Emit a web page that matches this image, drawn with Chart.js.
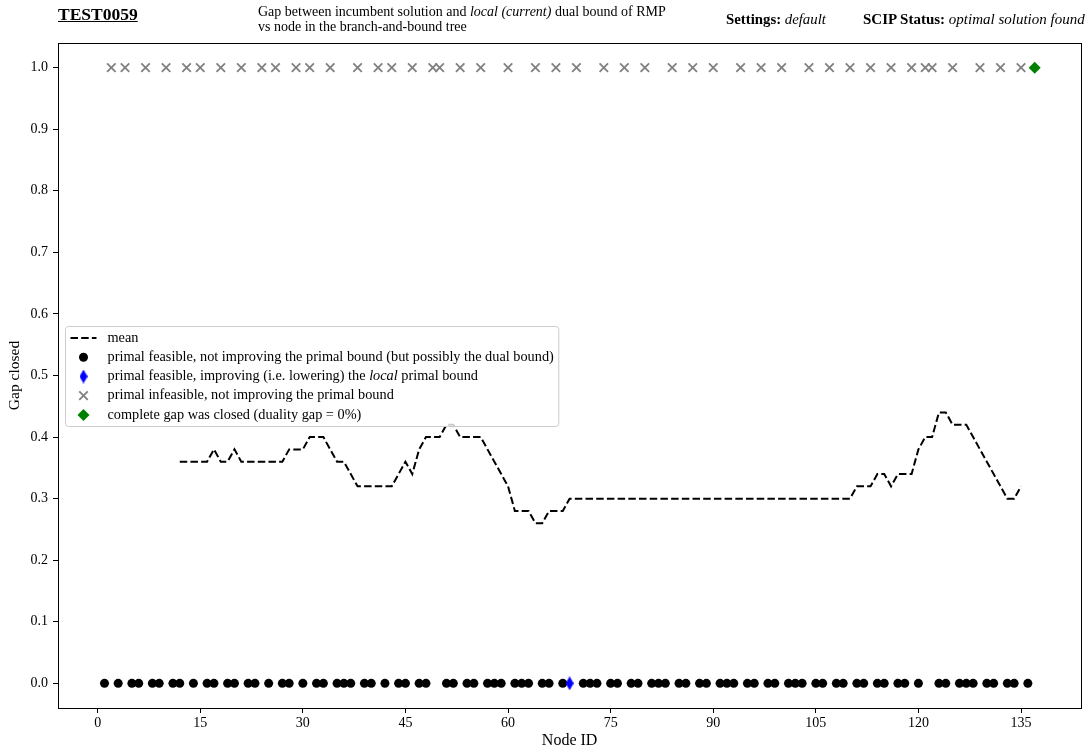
<!DOCTYPE html>
<html>
<head>
<meta charset="utf-8">
<title>TEST0059</title>
<script src="https://cdn.jsdelivr.net/npm/chart.js@4/dist/chart.umd.min.js"></script>
<style>
  html, body { margin: 0; padding: 0; background: #fff; }
  #wrap { position: relative; width: 1089px; height: 751px; font-family: "Liberation Serif", serif; color: #000; }
  #chart { position: absolute; left: 0; top: 0; }
  .hdr { position: absolute; white-space: nowrap; }
</style>
</head>
<body>
<div id="wrap">
  <canvas id="chart" width="1089" height="751"></canvas>
  <div class="hdr" style="left:58px; top:5px; font-size:17.5px; line-height:19px; font-weight:bold; text-decoration:underline;">TEST0059</div>
  <div class="hdr" style="left:258px; top:4px; font-size:14px; line-height:15px;">Gap between incumbent solution and <i>local (current)</i> dual bound of RMP<br>vs node in the branch-and-bound tree</div>
  <div class="hdr" style="left:726px; top:11px; font-size:14.8px; line-height:16px;"><b>Settings:</b> <i>default</i></div>
  <div class="hdr" style="left:863px; top:11px; font-size:15px; line-height:16px;"><b>SCIP Status:</b> <i>optimal solution found</i></div>
</div>
<script>
// Data (node IDs)

const feasibleNodes = [1, 3, 5, 6, 8, 9, 11, 12, 14, 16, 17, 19, 20, 22, 23, 25, 27, 28, 30, 32, 33,
    35, 36, 37, 39, 40, 42, 44, 45, 47, 48, 51, 52, 54, 55, 57, 58, 59, 61, 62, 63, 65, 66, 68,
    71, 72, 73, 75, 76, 78, 79, 81, 82, 83, 85, 86, 88, 89, 91, 92, 93, 95, 96, 98, 99, 101, 102,
    103, 105, 106, 108, 109, 111, 112, 114, 115, 117, 118, 120, 123, 124, 126, 127, 128, 130, 131,
    133, 134, 136];
const improvingNodes = [69];
const infeasibleNodes = [2, 4, 7, 10, 13, 15, 18, 21, 24, 26, 29, 31, 34, 38, 41, 43, 46, 49, 50,
    53, 56, 60, 64, 67, 70, 74, 77, 80, 84, 87, 90, 94, 97, 100, 104, 107, 110, 113, 116, 119,
    121, 122, 125, 129, 132, 135];
const closedNodes = [137];

// mean gap closed, one value per node starting at meanFirstNode
const meanFirstNode = 12;
const meanValues = [
    0.36, 0.36, 0.36, 0.36, 0.36, 0.38, 0.36, 0.36, 0.38, 0.36,   // 12-21
    0.36, 0.36, 0.36, 0.36, 0.36, 0.36, 0.38, 0.38, 0.38, 0.40,   // 22-31
    0.40, 0.40, 0.38, 0.36, 0.36, 0.34, 0.32, 0.32, 0.32, 0.32,   // 32-41
    0.32, 0.32, 0.34, 0.36, 0.34, 0.38, 0.40, 0.40, 0.40, 0.42,   // 42-51
    0.42, 0.40, 0.40, 0.40, 0.40, 0.38, 0.36, 0.34, 0.32, 0.28,   // 52-61
    0.28, 0.28, 0.26, 0.26, 0.28, 0.28, 0.28, 0.30, 0.30, 0.30,   // 62-71
    0.30, 0.30, 0.30, 0.30, 0.30, 0.30, 0.30, 0.30, 0.30, 0.30,   // 72-81
    0.30, 0.30, 0.30, 0.30, 0.30, 0.30, 0.30, 0.30, 0.30, 0.30,   // 82-91
    0.30, 0.30, 0.30, 0.30, 0.30, 0.30, 0.30, 0.30, 0.30, 0.30,   // 92-101
    0.30, 0.30, 0.30, 0.30, 0.30, 0.30, 0.30, 0.30, 0.30, 0.32,   // 102-111
    0.32, 0.32, 0.34, 0.34, 0.32, 0.34, 0.34, 0.34, 0.38, 0.40,   // 112-121
    0.40, 0.44, 0.44, 0.42, 0.42, 0.42, 0.40, 0.38, 0.36, 0.34,   // 122-131
    0.32, 0.30, 0.30, 0.32                                        // 132-135
];

const xTicks = [0, 15, 30, 45, 60, 75, 90, 105, 120, 135];
const yTicks = [0, 0.1, 0.2, 0.3, 0.4, 0.5, 0.6, 0.7, 0.8, 0.9, 1.0];

const legendLabels = [
    [['mean', false]],
    [['primal feasible, not improving the primal bound (but possibly the dual bound)', false]],
    [['primal feasible, improving (i.e. lowering) the ', false], ['local', true], [' primal bound', false]],
    [['primal infeasible, not improving the primal bound', false]],
    [['complete gap was closed (duality gap = 0%)', false]]
];

// Helpers

const FONT = "'Liberation Serif', serif";

// thin diamond marker (matplotlib 'd'), Chart.js has no such point style
let thinDiamond = function(color, w, h){
    let c = document.createElement('canvas');
    c.width = w;
    c.height = h;
    let g = c.getContext('2d');
    g.fillStyle = color;
    g.beginPath();
    g.moveTo(w / 2, 0);
    g.lineTo(w, h / 2);
    g.lineTo(w / 2, h);
    g.lineTo(0, h / 2);
    g.closePath();
    g.fill();
    return c;
};

let toPoints = function(nodes, y){
    return nodes.map(n => ({x: n, y: y}));
};

let meanPoints = meanValues.map((v, i) => ({x: meanFirstNode + i, y: v}));

// draws one legend symbol in the style of its dataset
let drawSymbol = function(ctx, ds, x, y){
    ctx.save();
    if (ds.showLine){
        ctx.strokeStyle = ds.borderColor;
        ctx.lineWidth = ds.borderWidth;
        ctx.setLineDash(ds.borderDash);
        ctx.beginPath();
        ctx.moveTo(x - 13, y);
        ctx.lineTo(x + 13, y);
        ctx.stroke();
    } else if (ds.pointStyle === 'circle'){
        ctx.fillStyle = ds.backgroundColor;
        ctx.beginPath();
        ctx.arc(x, y, ds.pointRadius, 0, Math.PI * 2);
        ctx.fill();
    } else if (ds.pointStyle === 'crossRot'){
        let o = Math.SQRT1_2 * ds.pointRadius;
        ctx.strokeStyle = ds.borderColor;
        ctx.lineWidth = ds.borderWidth;
        ctx.beginPath();
        ctx.moveTo(x - o, y - o);
        ctx.lineTo(x + o, y + o);
        ctx.moveTo(x - o, y + o);
        ctx.lineTo(x + o, y - o);
        ctx.stroke();
    } else if (ds.pointStyle === 'rectRot'){
        let r = ds.pointRadius;
        ctx.fillStyle = ds.backgroundColor;
        ctx.beginPath();
        ctx.moveTo(x - r, y);
        ctx.lineTo(x, y - r);
        ctx.lineTo(x + r, y);
        ctx.lineTo(x, y + r);
        ctx.closePath();
        ctx.fill();
    } else if (ds.pointStyle instanceof HTMLCanvasElement){
        let img = ds.pointStyle;
        ctx.drawImage(img, x - img.width / 2, y - img.height / 2);
    }
    ctx.restore();
};

// Plugins

// legend box inside the plot, 'center left' like matplotlib
const boxLegend = {
    id: 'boxLegend',
    afterDatasetsDraw(chart){
        let ctx = chart.ctx;
        let area = chart.chartArea;
        let fontSize = 14.3;
        let rowH = 19.2;
        ctx.save();
        ctx.textBaseline = 'middle';

        let widths = legendLabels.map(parts => parts.reduce((w, p) => {
            ctx.font = (p[1] ? 'italic ' : '') + fontSize + 'px ' + FONT;
            return w + ctx.measureText(p[0]).width;
        }, 0));
        let boxW = 42 + Math.max.apply(null, widths) + 5;
        let boxH = rowH * legendLabels.length + 4;
        let left = Math.round(area.left + 7) + 0.5;
        let top = Math.round((area.top + area.bottom) / 2 - boxH / 2) + 0.5;

        ctx.beginPath();
        ctx.roundRect(left, top, boxW, boxH, 3);
        ctx.fillStyle = 'rgba(255,255,255,0.8)';
        ctx.fill();
        ctx.strokeStyle = '#cccccc';
        ctx.lineWidth = 1;
        ctx.stroke();

        legendLabels.forEach(function(parts, i){
            let y = top + 2 + rowH * (i + 0.5);
            drawSymbol(ctx, chart.data.datasets[i], left + 18, y);
            let x = left + 42;
            parts.forEach(function(p){
                ctx.font = (p[1] ? 'italic ' : '') + fontSize + 'px ' + FONT;
                ctx.fillStyle = '#000';
                ctx.fillText(p[0], x, y);
                x += ctx.measureText(p[0]).width;
            });
        });
        ctx.restore();
    }
};

// full black frame round the plot
const frame = {
    id: 'frame',
    afterDraw(chart){
        let a = chart.chartArea;
        let ctx = chart.ctx;
        ctx.save();
        ctx.strokeStyle = '#000';
        ctx.lineWidth = 1;
        ctx.strokeRect(Math.round(a.left) + 0.5, Math.round(a.top) + 0.5,
            Math.round(a.right) - Math.round(a.left), Math.round(a.bottom) - Math.round(a.top));
        ctx.restore();
    }
};

// Chart

document.addEventListener('DOMContentLoaded', function() {
    Chart.defaults.font.family = FONT;
    Chart.defaults.color = '#000';

    let chartDom = document.getElementById('chart').getContext('2d');
    new Chart(chartDom, {
        type: 'scatter',
        data: {
            datasets: [
                {
                    label: 'mean',
                    data: meanPoints,
                    showLine: true,
                    borderColor: '#000000',
                    backgroundColor: '#000000',
                    borderWidth: 2,
                    borderDash: [7.5, 3.2],
                    pointRadius: 0,
                    tension: 0,
                    fill: false,
                    order: 5
                },
                {
                    label: 'feasible',
                    data: toPoints(feasibleNodes, 0),
                    pointStyle: 'circle',
                    pointRadius: 4.5,
                    backgroundColor: '#000000',
                    borderWidth: 0,
                    order: 2
                },
                {
                    label: 'improving',
                    data: toPoints(improvingNodes, 0),
                    pointStyle: thinDiamond('#0000ff', 8, 14),
                    pointRadius: 5,
                    backgroundColor: '#0000ff',
                    borderWidth: 0,
                    order: 1
                },
                {
                    label: 'infeasible',
                    data: toPoints(infeasibleNodes, 1),
                    pointStyle: 'crossRot',
                    pointRadius: 6,
                    borderColor: '#808080',
                    backgroundColor: '#808080',
                    borderWidth: 1.8,
                    order: 3
                },
                {
                    label: 'closed',
                    data: toPoints(closedNodes, 1),
                    pointStyle: 'rectRot',
                    pointRadius: 6,
                    backgroundColor: '#008000',
                    borderWidth: 0,
                    order: 1
                }
            ]
        },
        options: {
            responsive: false,
            devicePixelRatio: 1,
            animation: false,
            events: [],
            layout: {
                padding: {top: 43, right: 7.5, bottom: 0, left: 0}
            },
            plugins: {
                legend: {display: false},
                tooltip: {enabled: false}
            },
            scales: {
                x: {
                    type: 'linear',
                    min: -5.8,
                    max: 143.8,
                    afterBuildTicks: s => { s.ticks = xTicks.map(v => ({value: v})); },
                    afterFit: s => { s.height = 43; },
                    grid: {display: true, drawOnChartArea: false, drawTicks: true, tickLength: 5, color: '#000'},
                    border: {display: true, color: '#000', width: 1},
                    ticks: {font: {size: 14}, padding: 2, maxRotation: 0, autoSkip: false,
                        callback: v => String(v)},
                    title: {display: true, text: 'Node ID', font: {size: 16}, padding: {top: 0, bottom: 1}}
                },
                y: {
                    type: 'linear',
                    min: -0.04,
                    max: 1.04,
                    afterBuildTicks: s => { s.ticks = yTicks.map(v => ({value: v})); },
                    afterFit: s => { s.width = 58; },
                    grid: {display: true, drawOnChartArea: false, drawTicks: true, tickLength: 5, color: '#000'},
                    border: {display: true, color: '#000', width: 1},
                    ticks: {font: {size: 14}, padding: 5, autoSkip: false,
                        callback: v => v.toFixed(1)},
                    title: {display: true, text: 'Gap closed', font: {size: 15.5}, padding: {top: 6, bottom: 0}}
                }
            }
        },
        plugins: [boxLegend, frame]
    });
});
</script>
</body>
</html>
